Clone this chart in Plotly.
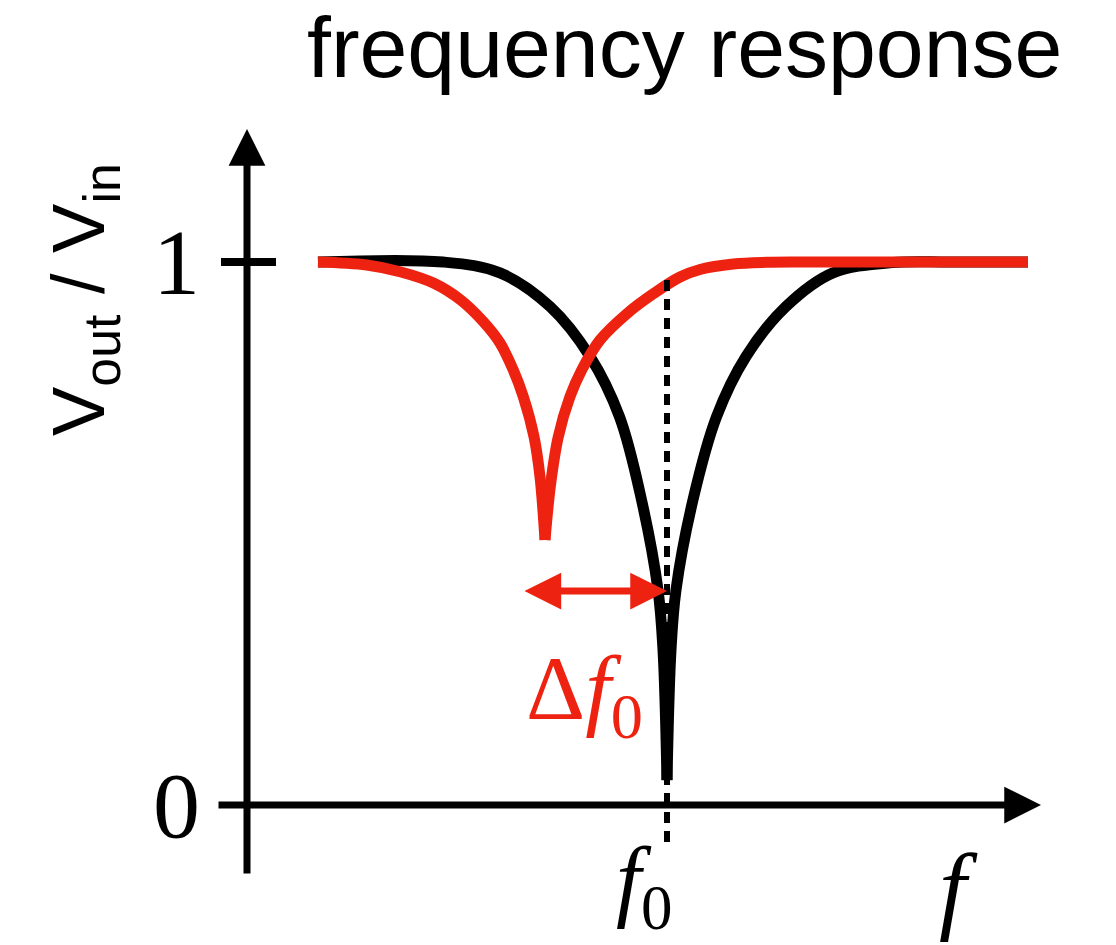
import plotly.graph_objects as go

# ---------------- data ----------------
# normalised frequency (f / f0) and Vout/Vin
f_black = [0.1690, 0.4667, 0.6024, 0.7214, 0.8167, 0.8869, 0.9393, 0.9786, 0.9905, 1.0000,
           1.0095, 1.0214, 1.0619, 1.1179, 1.1881, 1.2833, 1.3952, 1.5380, 1.6738, 1.8595]
v_black = [1.0000, 1.0000, 0.9800, 0.9180, 0.8260, 0.7150, 0.5620, 0.3960, 0.2855, 0.0460,
           0.2855, 0.3960, 0.5620, 0.7150, 0.8260, 0.9180, 0.9800, 0.9990, 1.0000, 1.0000]

f_red = [0.1690, 0.2850, 0.3643, 0.4452, 0.5088, 0.5626, 0.6024, 0.6340, 0.6579, 0.6833, 0.6976, 0.7095,
         0.7231, 0.7412, 0.7690, 0.7969, 0.8405, 0.9055, 0.9690, 1.0310, 1.0786, 1.1579, 1.2374, 1.3167,
         1.5900, 1.8595]
v_red = [1.0000, 0.9945, 0.9821, 0.9608, 0.9300, 0.8901, 0.8508, 0.8011, 0.7519, 0.6783, 0.6046, 0.4880,
         0.5924, 0.6783, 0.7519, 0.8011, 0.8564, 0.9055, 0.9423, 0.9724, 0.9862, 0.9963, 0.9994, 1.0000,
         1.0000, 1.0000]

F0 = 1.0                   # resonance of the black curve
DELTA_ARROW_START = 0.657  # left end of the Δf0 arrow
tick_vals = [0, 1]
tick_text = ["0", "1"]

# ---------------- layout geometry ----------------
W, H = 1116, 945
X0PX, PXF = 247, 420.0   # pixel of f=0, pixels per unit f
Y0PX, PXV = 805, 543.0   # pixel of V=0, pixels per unit V


def fx(px):
    return (px - X0PX) / PXF


def vy(py):
    return (Y0PX - py) / PXV


BLACK = "#000000"
RED = "#EE2211"
LW = 11

fig = go.Figure()


def add_curve(fs, vs, color):
    i = vs.index(min(vs))
    for xs, ys in ((fs[:i + 1], vs[:i + 1]), (fs[i:], vs[i:])):
        fig.add_trace(go.Scatter(x=xs, y=ys, mode="lines",
                                 line=dict(color=color, width=LW, shape="spline", smoothing=1.0),
                                 hoverinfo="skip", showlegend=False))


add_curve(f_black, v_black, BLACK)
add_curve(f_red, v_red, RED)

# dashed marker line at f0
fig.add_trace(go.Scatter(x=[F0, F0], y=[vy(842), vy(277)], mode="lines",
                         line=dict(color=BLACK, width=6, dash="11px,8px"),
                         hoverinfo="skip", showlegend=False))

# tick at 1
fig.add_shape(type="line", xref="x", yref="y", x0=fx(221), x1=fx(276), y0=1, y1=1,
              line=dict(color=BLACK, width=8))

annotations = []
# axes with arrows
annotations.append(dict(x=0, y=vy(129), ax=0, ay=vy(875), xref="x", yref="y", axref="x", ayref="y",
                        text="", showarrow=True, arrowhead=2, arrowsize=1.05, arrowwidth=7, arrowcolor=BLACK))
annotations.append(dict(x=fx(1041), y=0, ax=fx(217), ay=0, xref="x", yref="y", axref="x", ayref="y",
                        text="", showarrow=True, arrowhead=2, arrowsize=1.05, arrowwidth=7, arrowcolor=BLACK))
# delta f0 double arrow
annotations.append(dict(x=F0, y=vy(591), ax=DELTA_ARROW_START, ay=vy(591), xref="x", yref="y",
                        axref="x", ayref="y",
                        text="", showarrow=True, arrowhead=2, startarrowhead=2, arrowside="end+start",
                        arrowsize=1.05, startarrowsize=1.05, arrowwidth=7, arrowcolor=RED))

serif = "Liberation Serif, Times New Roman, serif"
sans = "Liberation Sans, Arial, Helvetica, sans-serif"

for val, txt in zip(tick_vals, tick_text):
    annotations.append(dict(x=fx(176), y=val, xref="x", yref="y", text=txt, showarrow=False,
                            font=dict(family=serif, size=94, color=BLACK), xanchor="center", yanchor="middle"))

annotations.append(dict(x=F0 + fx(644) - fx(667), y=vy(886), xref="x", yref="y",
                        text="<i>f</i><sub>0</sub>", showarrow=False,
                        font=dict(family=serif, size=90, color=BLACK), xanchor="center", yanchor="middle"))
annotations.append(dict(x=fx(958), y=vy(888), xref="x", yref="y", text="<i>f</i>", showarrow=False,
                        font=dict(family=serif, size=98, color=BLACK), xanchor="center", yanchor="middle"))
annotations.append(dict(x=fx(584), y=vy(694), xref="x", yref="y", text="Δ<i>f</i><sub>0</sub>", showarrow=False,
                        font=dict(family=serif, size=92, color=RED), xanchor="center", yanchor="middle"))
annotations.append(dict(x=fx(84), y=vy(300), xref="x", yref="y", text="V<sub>out</sub> / V<sub>in</sub>",
                        showarrow=False, textangle=-90,
                        font=dict(family=sans, size=74, color=BLACK), xanchor="center", yanchor="middle"))
annotations.append(dict(x=fx(684), y=vy(47), xref="x", yref="y", text="frequency response", showarrow=False,
                        font=dict(family=sans, size=86, color=BLACK), xanchor="center", yanchor="middle"))

fig.update_layout(
    width=W, height=H,
    margin=dict(l=0, r=0, t=0, b=0, pad=0),
    paper_bgcolor="white", plot_bgcolor="white",
    xaxis=dict(range=[fx(0), fx(W)], visible=False, fixedrange=True),
    yaxis=dict(range=[vy(H), vy(0)], visible=False, fixedrange=True),
    annotations=annotations,
    showlegend=False,
)

fig.write_html("out.html")
